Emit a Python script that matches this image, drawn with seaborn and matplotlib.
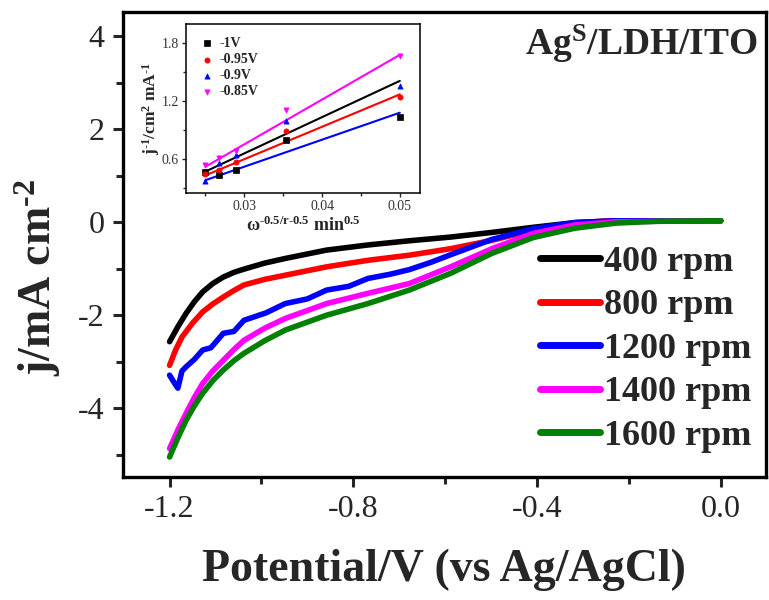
import numpy as np
import pandas as pd
import matplotlib
matplotlib.use("Agg")
import matplotlib.pyplot as plt
import seaborn as sns
from matplotlib.ticker import MultipleLocator

# --- LSV curves (potential in V, current density in mA cm-2) ---
v_400 = [-1.2, -1.182, -1.164, -1.146, -1.128, -1.106, -1.083, -1.06, -1.038, -0.993, -0.948, -0.858, -0.768,
         -0.678, -0.588, -0.498, -0.408, -0.318, -0.228, -0.138, 0.0]
j_400 = [-2.57, -2.25, -1.96, -1.71, -1.50, -1.32, -1.18, -1.08, -1.01, -0.88, -0.78, -0.60, -0.49,
         -0.40, -0.32, -0.22, -0.11, -0.01, 0.03, 0.03, 0.03]

v_800 = [-1.2, -1.187, -1.173, -1.15, -1.128, -1.106, -1.083, -1.06, -1.038, -0.993, -0.948, -0.858, -0.768,
         -0.678, -0.588, -0.498, -0.408, -0.318, -0.228, 0.0]
j_800 = [-3.08, -2.75, -2.47, -2.17, -1.93, -1.76, -1.61, -1.47, -1.35, -1.23, -1.14, -0.96, -0.82,
         -0.71, -0.57, -0.39, -0.17, -0.01, 0.03, 0.03]

v_1200 = [-1.2, -1.19, -1.182, -1.173, -1.164, -1.146, -1.128, -1.11, -1.083, -1.06, -1.038, -0.99, -0.948,
          -0.9, -0.858, -0.81, -0.768, -0.72, -0.678, -0.63, -0.588, -0.498, -0.408, -0.318, -0.228, 0.0]
j_1200 = [-3.29, -3.45, -3.57, -3.20, -3.11, -2.95, -2.75, -2.70, -2.39, -2.35, -2.11, -1.95, -1.75,
          -1.65, -1.46, -1.38, -1.21, -1.12, -1.02, -0.86, -0.70, -0.37, -0.14, -0.01, 0.03, 0.03]

v_1400 = [-1.2, -1.182, -1.164, -1.146, -1.128, -1.106, -1.083, -1.06, -1.038, -0.993, -0.948, -0.858, -0.768,
          -0.678, -0.588, -0.498, -0.408, -0.318, -0.228, 0.0]
j_1400 = [-4.87, -4.47, -4.11, -3.77, -3.47, -3.20, -2.97, -2.74, -2.54, -2.28, -2.07, -1.75, -1.53,
          -1.32, -0.96, -0.57, -0.24, -0.06, 0.01, 0.03]

v_1600 = [-1.2, -1.182, -1.164, -1.146, -1.128, -1.106, -1.083, -1.06, -1.038, -0.993, -0.948, -0.858, -0.768,
          -0.678, -0.588, -0.498, -0.408, -0.318, -0.228, -0.138, 0.0]
j_1600 = [-5.05, -4.64, -4.26, -3.95, -3.68, -3.41, -3.18, -2.98, -2.82, -2.55, -2.32, -2.00, -1.75,
          -1.46, -1.10, -0.67, -0.33, -0.13, -0.02, 0.02, 0.03]

rpm_labels = ["400 rpm", "800 rpm", "1200 rpm", "1400 rpm", "1600 rpm"]
rpm_colors = ["#000000", "#ff0000", "#0000ff", "#ff00ff", "#008000"]

# --- Koutecky-Levich inset ---
kl_x = [0.025, 0.0267, 0.0289, 0.0354, 0.05]
kl_1v = [0.46, 0.43, 0.49, 0.80, 1.04]
kl_095v = [0.44, 0.49, 0.57, 0.89, 1.24]
kl_09v = [0.37, 0.56, 0.64, 0.99, 1.36]
kl_085v = [0.54, 0.61, 0.68, 1.11, 1.67]
fit_x = [0.025, 0.05]
fit_1v = [0.47, 1.41]
fit_095v = [0.43, 1.27]
fit_09v = [0.38, 1.08]
fit_085v = [0.52, 1.68]
kl_labels = ["-1V", "-0.95V", "-0.9V", "-0.85V"]
kl_markers = ["s", "o", "^", "v"]

sns.set_theme(style="ticks")
plt.rcParams["font.family"] = ["Liberation Serif", "DejaVu Serif"]
plt.rcParams["mathtext.fontset"] = "custom"
plt.rcParams["mathtext.rm"] = "Liberation Serif"
plt.rcParams["mathtext.bf"] = "Liberation Serif:bold"
plt.rcParams["mathtext.it"] = "Liberation Serif:italic"
plt.rcParams["axes.unicode_minus"] = False

HY = "\u2010"  # plain hyphen inside mathtext

fig = plt.figure(figsize=(7.69, 6.0), dpi=100)
ax = fig.add_axes([0.1596, 0.205, 0.8361, 0.775])

curves = [(v_400, j_400), (v_800, j_800), (v_1200, j_1200), (v_1400, j_1400), (v_1600, j_1600)]
for (v, j), lab, col in zip(curves, rpm_labels, rpm_colors):
    df = pd.DataFrame({"V": v, "j": j})
    sns.lineplot(data=df, x="V", y="j", ax=ax, color=col, lw=4, label=lab,
                 sort=False, estimator=None, solid_capstyle="round")

ax.set_xlim(-1.302, 0.098)
ax.set_ylim(-5.48, 4.52)
ax.set_xticks([-1.2, -0.8, -0.4, 0.0])
ax.set_xticklabels(["-1.2", "-0.8", "-0.4", "0.0"])
ax.set_yticks([4, 2, 0, -2, -4])
ax.set_yticklabels(["4", "2", "0", "-2", "-4"])
ax.xaxis.set_minor_locator(MultipleLocator(0.2))
ax.yaxis.set_minor_locator(MultipleLocator(1))
ax.tick_params(which="major", direction="out", length=7, width=2.2, labelsize=23, pad=6)
ax.tick_params(which="minor", direction="out", length=5, width=2.2)
for s in ax.spines.values():
    s.set_linewidth(2.4)
    s.set_color("black")
ax.set_xlabel("Potential/V (vs Ag/AgCl)", fontsize=33, fontweight="bold", labelpad=18)
ax.set_ylabel(r"$\mathbf{j/mA\ cm^{" + HY + r"2}}$", fontsize=33)
ax.yaxis.set_label_coords(-0.093, 0.43)

leg = ax.legend(loc="lower right", bbox_to_anchor=(1.012, 0.006), frameon=False,
                prop={"size": 26, "weight": "bold"}, handlelength=1.65,
                handletextpad=0.12, labelspacing=0.28, borderpad=0.1)
for h in leg.get_lines():
    h.set_linewidth(5)

ax.text(0.988, 0.9075, r"$\mathbf{Ag^{S}/LDH/ITO}$", transform=ax.transAxes,
        ha="right", va="baseline", fontsize=27)

# --- inset ---
ins = fig.add_axes([0.2419, 0.6788, 0.3043, 0.2812])
ins.set_facecolor("white")
kl_sets = [(kl_1v, fit_1v), (kl_095v, fit_095v), (kl_09v, fit_09v), (kl_085v, fit_085v)]
kl_colors = ["#000000", "#ff0000", "#0000ff", "#ff00ff"]
for (pts, fit), lab, col, mk in zip(kl_sets, kl_labels, kl_colors, kl_markers):
    sns.scatterplot(x=kl_x, y=pts, ax=ins, color=col, marker=mk, s=14, edgecolor=col,
                    linewidth=0.5, label=lab, zorder=3)
    sns.lineplot(x=fit_x, y=fit, ax=ins, color=col, lw=1.5, estimator=None, zorder=2)

ins.set_xlim(0.0225, 0.0526)
ins.set_ylim(0.25, 2.0)
ins.set_xticks([0.03, 0.04, 0.05])
ins.set_xticklabels(["0.03", "0.04", "0.05"])
ins.set_yticks([0.6, 1.2, 1.8])
ins.set_yticklabels(["0.6", "1.2", "1.8"])
ins.xaxis.set_minor_locator(MultipleLocator(0.005))
ins.yaxis.set_minor_locator(MultipleLocator(0.3))
ins.tick_params(which="major", direction="out", length=3, width=1, labelsize=10, pad=2,
                labelcolor="#333333")
ins.tick_params(which="minor", direction="out", length=2, width=1)
for s in ins.spines.values():
    s.set_linewidth(1.1)
    s.set_color("black")
ins.set_xlabel(r"$\mathbf{\omega^{" + HY + r"0.5/r" + HY + r"0.5}\ min^{0.5}}$", fontsize=13, labelpad=2)
ins.set_ylabel(r"$\mathbf{j^{" + HY + r"1}/cm^{2}\ mA^{" + HY + r"1}}$", fontsize=12.5, labelpad=0)
ins.legend(loc="upper left", bbox_to_anchor=(0.02, 0.98), frameon=False,
           prop={"size": 10, "weight": "bold"}, handlelength=1.0, handletextpad=0.4,
           labelspacing=0.22, borderpad=0.2, markerscale=1.0)

fig.savefig("out.png", dpi=100)
